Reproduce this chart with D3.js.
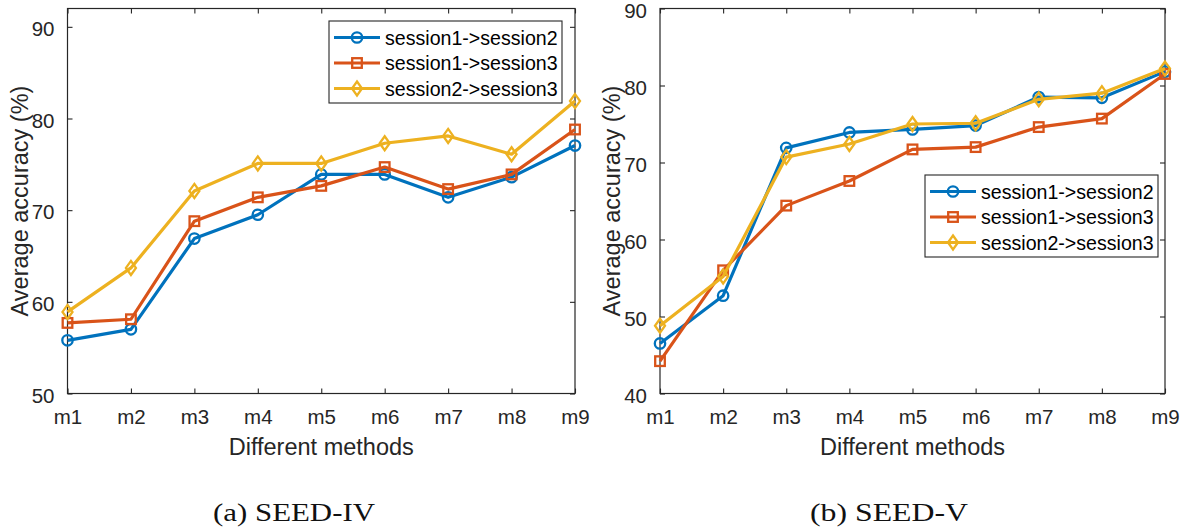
<!DOCTYPE html>
<html>
<head>
<meta charset="utf-8">
<script src="https://cdn.jsdelivr.net/npm/d3@7"></script>
<style>
  html, body { margin: 0; padding: 0; background: #fff; }
  svg { display: block; }
  .tick text { font-family: "Liberation Sans", Arial, sans-serif; }
</style>
</head>
<body>
<svg id="fig" width="1187" height="528"></svg>
<script>
// Methods on the x axis
const methods = ["m1", "m2", "m3", "m4", "m5", "m6", "m7", "m8", "m9"];
const seriesNames = ["session1->session2", "session1->session3", "session2->session3"];

// SEED-IV average accuracy (%)
const seedIV_s1s2 = [55.8, 57.0, 66.9, 69.5, 73.9, 73.9, 71.4, 73.6, 77.05];
const seedIV_s1s3 = [57.7, 58.1, 68.8, 71.4, 72.65, 74.7, 72.3, 73.9, 78.8];
const seedIV_s2s3 = [58.9, 63.7, 72.1, 75.1, 75.1, 77.3, 78.1, 76.1, 81.9];

// SEED-V average accuracy (%)
const seedV_s1s2 = [46.5, 52.7, 71.9, 73.9, 74.3, 74.8, 78.5, 78.4, 81.8];
const seedV_s1s3 = [44.2, 56.0, 64.4, 67.6, 71.7, 72.0, 74.6, 75.7, 81.5];
const seedV_s2s3 = [48.8, 55.2, 70.7, 72.4, 75.0, 75.1, 78.2, 79.0, 82.2];

const ticksIV = [50, 60, 70, 80, 90];
const ticksV = [40, 50, 60, 70, 80, 90];

const colors = ["#0072BD", "#D95319", "#EDB120"];
const markers = ["circle", "square", "diamond"];
const axisColor = "#262626";
const sansFont = "'Liberation Sans', Arial, Helvetica, sans-serif";

const svg = d3.select("#fig");

function drawMarker(g, type, x, y, color) {
  if (type === "circle") {
    g.append("circle").attr("cx", x).attr("cy", y).attr("r", 5.2)
      .attr("fill", "none").attr("stroke", color).attr("stroke-width", 2.3);
  } else if (type === "square") {
    g.append("rect").attr("x", x - 4.8).attr("y", y - 4.8).attr("width", 9.6).attr("height", 9.6)
      .attr("fill", "none").attr("stroke", color).attr("stroke-width", 2.3);
  } else {
    g.append("path")
      .attr("d", `M${x},${y - 7}L${x + 5},${y}L${x},${y + 7}L${x - 5},${y}Z`)
      .attr("fill", "none").attr("stroke", color).attr("stroke-width", 2.3);
  }
}

function panel(opts) {
  const { left, right, top, bottom, yDomain, yTicks, data, legend, caption } = opts;
  const g = svg.append("g");

  const x = d3.scalePoint().domain(methods).range([left, right]);
  const y = d3.scaleLinear().domain(yDomain).range([bottom, top]);

  // Box
  g.append("rect").attr("x", left).attr("y", top)
    .attr("width", right - left).attr("height", bottom - top)
    .attr("fill", "#fff").attr("stroke", axisColor).attr("stroke-width", 1.2);

  // Bottom axis with inward ticks
  const xAxis = g.append("g").attr("transform", `translate(0,${bottom})`)
    .call(d3.axisBottom(x).tickSizeInner(-5).tickSizeOuter(0).tickPadding(16));
  xAxis.select(".domain").remove();
  xAxis.selectAll("line").attr("stroke", axisColor).attr("stroke-width", 1.1);
  xAxis.selectAll("text").attr("font-size", 20.5).attr("fill", axisColor)
    .attr("font-family", sansFont);

  // Top axis ticks (box style)
  const xTop = g.append("g").attr("transform", `translate(0,${top})`)
    .call(d3.axisTop(x).tickSizeInner(-5).tickSizeOuter(0).tickFormat(""));
  xTop.select(".domain").remove();
  xTop.selectAll("line").attr("stroke", axisColor).attr("stroke-width", 1.1);

  // Left axis
  const yAxis = g.append("g").attr("transform", `translate(${left},0)`)
    .call(d3.axisLeft(y).tickValues(yTicks).tickSizeInner(-5).tickSizeOuter(0).tickPadding(13));
  yAxis.select(".domain").remove();
  yAxis.selectAll("line").attr("stroke", axisColor).attr("stroke-width", 1.1);
  yAxis.selectAll("text").attr("font-size", 20.5).attr("fill", axisColor)
    .attr("font-family", sansFont).attr("y", 2.2);

  // Right axis ticks
  const yRight = g.append("g").attr("transform", `translate(${right},0)`)
    .call(d3.axisRight(y).tickValues(yTicks).tickSizeInner(-5).tickSizeOuter(0).tickFormat(""));
  yRight.select(".domain").remove();
  yRight.selectAll("line").attr("stroke", axisColor).attr("stroke-width", 1.1);

  // Series lines and markers
  const line = d3.line().x((d, i) => x(methods[i])).y(d => y(d));
  data.forEach((vals, s) => {
    g.append("path").datum(vals).attr("d", line)
      .attr("fill", "none").attr("stroke", colors[s]).attr("stroke-width", 3.2)
      .attr("stroke-linejoin", "round");
    const mg = g.append("g");
    vals.forEach((v, i) => drawMarker(mg, markers[s], x(methods[i]), y(v), colors[s]));
  });

  // Axis labels
  g.append("text").attr("x", (left + right) / 2).attr("y", 455)
    .attr("text-anchor", "middle").attr("font-family", sansFont)
    .attr("font-size", 23.5).attr("fill", axisColor).text("Different methods");
  g.append("text")
    .attr("transform", `translate(${left - 40},${(top + bottom) / 2}) rotate(-90)`)
    .attr("text-anchor", "middle").attr("font-family", sansFont)
    .attr("font-size", 23.5).attr("fill", axisColor).text("Average accuracy (%)");

  // Legend
  const lg = g.append("g");
  lg.append("rect").attr("x", legend.x).attr("y", legend.y)
    .attr("width", legend.w).attr("height", legend.h)
    .attr("fill", "#fff").attr("stroke", axisColor).attr("stroke-width", 1.1);
  seriesNames.forEach((name, s) => {
    const cy = legend.y + 16.5 + s * 25.5;
    const x0 = legend.x + 5, x1 = legend.x + 51;
    lg.append("line").attr("x1", x0).attr("x2", x1).attr("y1", cy).attr("y2", cy)
      .attr("stroke", colors[s]).attr("stroke-width", 3.2);
    drawMarker(lg, markers[s], (x0 + x1) / 2, cy, colors[s]);
    lg.append("text").attr("x", legend.x + 56).attr("y", cy + 7)
      .attr("font-family", sansFont).attr("font-size", 19.6).attr("fill", "#000")
      .text(name);
  });

  // Caption
  svg.append("text").attr("x", caption.x).attr("y", 521)
    .attr("font-family", "'Liberation Serif', 'Times New Roman', serif")
    .attr("font-size", 26).attr("fill", "#111")
    .attr("textLength", caption.w).attr("lengthAdjust", "spacingAndGlyphs")
    .text(caption.text);
}

panel({
  left: 67.5, right: 575, top: 8.5, bottom: 393.5,
  yDomain: [50, 92], yTicks: ticksIV,
  data: [seedIV_s1s2, seedIV_s1s3, seedIV_s2s3],
  legend: { x: 329, y: 21, w: 233, h: 82 },
  caption: { x: 213, w: 162, text: "(a) SEED-IV" }
});

panel({
  left: 660, right: 1165, top: 8.5, bottom: 393.5,
  yDomain: [40, 90], yTicks: ticksV,
  data: [seedV_s1s2, seedV_s1s3, seedV_s2s3],
  legend: { x: 925, y: 175, w: 233, h: 82 },
  caption: { x: 810, w: 158, text: "(b) SEED-V" }
});
</script>
</body>
</html>
